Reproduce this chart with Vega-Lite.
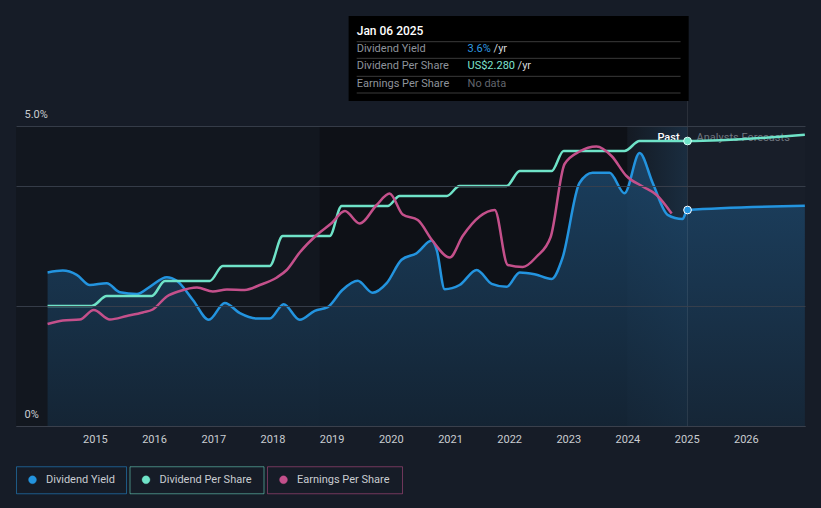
{
  "$schema": "https://vega.github.io/schema/vega-lite/v6.json",
  "width": 789,
  "height": 300,
  "autosize": {"type": "none"},
  "padding": {"left": 16, "top": 126, "right": 16, "bottom": 82},
  "background": "#161c27",
  "config": {
    "view": {"stroke": null, "fill": "#12171f"},
    "font": "Roboto",
    "text": {"font": "Roboto"}
  },
  "datasets": {
    "yield": [
      {"date": "2014-03-15", "value": 2.56, "series": "Dividend Yield"},
      {"date": "2014-06-17", "value": 2.59, "series": "Dividend Yield"},
      {"date": "2014-09-11", "value": 2.52, "series": "Dividend Yield"},
      {"date": "2014-12-01", "value": 2.35, "series": "Dividend Yield"},
      {"date": "2015-03-15", "value": 2.38, "series": "Dividend Yield"},
      {"date": "2015-06-04", "value": 2.23, "series": "Dividend Yield"},
      {"date": "2015-09-17", "value": 2.20, "series": "Dividend Yield"},
      {"date": "2015-12-06", "value": 2.32, "series": "Dividend Yield"},
      {"date": "2016-03-20", "value": 2.48, "series": "Dividend Yield"},
      {"date": "2016-05-21", "value": 2.42, "series": "Dividend Yield"},
      {"date": "2016-08-28", "value": 2.10, "series": "Dividend Yield"},
      {"date": "2016-12-04", "value": 1.77, "series": "Dividend Yield"},
      {"date": "2017-03-13", "value": 2.05, "series": "Dividend Yield"},
      {"date": "2017-06-14", "value": 1.88, "series": "Dividend Yield"},
      {"date": "2017-09-26", "value": 1.79, "series": "Dividend Yield"},
      {"date": "2017-12-15", "value": 1.79, "series": "Dividend Yield"},
      {"date": "2018-03-11", "value": 2.03, "series": "Dividend Yield"},
      {"date": "2018-06-18", "value": 1.77, "series": "Dividend Yield"},
      {"date": "2018-09-19", "value": 1.92, "series": "Dividend Yield"},
      {"date": "2018-12-08", "value": 1.98, "series": "Dividend Yield"},
      {"date": "2019-03-10", "value": 2.27, "series": "Dividend Yield"},
      {"date": "2019-06-11", "value": 2.42, "series": "Dividend Yield"},
      {"date": "2019-09-11", "value": 2.22, "series": "Dividend Yield"},
      {"date": "2019-12-07", "value": 2.38, "series": "Dividend Yield"},
      {"date": "2020-03-08", "value": 2.77, "series": "Dividend Yield"},
      {"date": "2020-06-09", "value": 2.88, "series": "Dividend Yield"},
      {"date": "2020-09-10", "value": 3.09, "series": "Dividend Yield"},
      {"date": "2020-10-11", "value": 2.93, "series": "Dividend Yield"},
      {"date": "2020-11-29", "value": 2.28, "series": "Dividend Yield"},
      {"date": "2021-03-01", "value": 2.35, "series": "Dividend Yield"},
      {"date": "2021-06-15", "value": 2.60, "series": "Dividend Yield"},
      {"date": "2021-09-15", "value": 2.37, "series": "Dividend Yield"},
      {"date": "2021-12-16", "value": 2.32, "series": "Dividend Yield"},
      {"date": "2022-03-07", "value": 2.56, "series": "Dividend Yield"},
      {"date": "2022-06-07", "value": 2.53, "series": "Dividend Yield"},
      {"date": "2022-09-20", "value": 2.45, "series": "Dividend Yield"},
      {"date": "2022-11-26", "value": 2.80, "series": "Dividend Yield"},
      {"date": "2023-03-11", "value": 4.05, "series": "Dividend Yield"},
      {"date": "2023-05-31", "value": 4.22, "series": "Dividend Yield"},
      {"date": "2023-09-13", "value": 4.22, "series": "Dividend Yield"},
      {"date": "2023-12-14", "value": 3.88, "series": "Dividend Yield"},
      {"date": "2024-03-16", "value": 4.55, "series": "Dividend Yield"},
      {"date": "2024-06-05", "value": 4.05, "series": "Dividend Yield"},
      {"date": "2024-09-05", "value": 3.52, "series": "Dividend Yield"},
      {"date": "2024-12-06", "value": 3.45, "series": "Dividend Yield"},
      {"date": "2025-01-06", "value": 3.60, "series": "Dividend Yield"},
      {"date": "2026-12-31", "value": 3.67, "series": "Dividend Yield"}
    ],
    "dps": [
      {"date": "2014-03-15", "value": 0.96, "series": "Dividend Per Share"},
      {"date": "2014-12-13", "value": 0.96, "series": "Dividend Per Share"},
      {"date": "2015-03-15", "value": 1.04, "series": "Dividend Per Share"},
      {"date": "2015-12-18", "value": 1.04, "series": "Dividend Per Share"},
      {"date": "2016-03-08", "value": 1.16, "series": "Dividend Per Share"},
      {"date": "2016-12-10", "value": 1.16, "series": "Dividend Per Share"},
      {"date": "2017-02-28", "value": 1.28, "series": "Dividend Per Share"},
      {"date": "2017-12-15", "value": 1.28, "series": "Dividend Per Share"},
      {"date": "2018-03-05", "value": 1.52, "series": "Dividend Per Share"},
      {"date": "2018-12-20", "value": 1.52, "series": "Dividend Per Share"},
      {"date": "2019-03-04", "value": 1.76, "series": "Dividend Per Share"},
      {"date": "2019-12-13", "value": 1.76, "series": "Dividend Per Share"},
      {"date": "2020-02-25", "value": 1.84, "series": "Dividend Per Share"},
      {"date": "2020-12-12", "value": 1.84, "series": "Dividend Per Share"},
      {"date": "2021-03-01", "value": 1.92, "series": "Dividend Per Share"},
      {"date": "2021-12-16", "value": 1.92, "series": "Dividend Per Share"},
      {"date": "2022-03-07", "value": 2.04, "series": "Dividend Per Share"},
      {"date": "2022-09-20", "value": 2.04, "series": "Dividend Per Share"},
      {"date": "2022-12-03", "value": 2.20, "series": "Dividend Per Share"},
      {"date": "2023-12-14", "value": 2.20, "series": "Dividend Per Share"},
      {"date": "2024-03-16", "value": 2.28, "series": "Dividend Per Share"},
      {"date": "2025-01-06", "value": 2.28, "series": "Dividend Per Share"},
      {"date": "2026-12-31", "value": 2.33, "series": "Dividend Per Share"}
    ],
    "eps": [
      {"date": "2014-03-15", "value": 2.04, "series": "Earnings Per Share"},
      {"date": "2014-06-17", "value": 2.11, "series": "Earnings Per Share"},
      {"date": "2014-09-30", "value": 2.13, "series": "Earnings Per Share"},
      {"date": "2014-12-25", "value": 2.32, "series": "Earnings Per Share"},
      {"date": "2015-04-03", "value": 2.13, "series": "Earnings Per Share"},
      {"date": "2015-07-17", "value": 2.20, "series": "Earnings Per Share"},
      {"date": "2015-10-23", "value": 2.27, "series": "Earnings Per Share"},
      {"date": "2015-12-24", "value": 2.33, "series": "Earnings Per Share"},
      {"date": "2016-03-20", "value": 2.59, "series": "Earnings Per Share"},
      {"date": "2016-06-09", "value": 2.70, "series": "Earnings Per Share"},
      {"date": "2016-09-22", "value": 2.77, "series": "Earnings Per Share"},
      {"date": "2016-12-29", "value": 2.69, "series": "Earnings Per Share"},
      {"date": "2017-03-26", "value": 2.73, "series": "Earnings Per Share"},
      {"date": "2017-07-14", "value": 2.72, "series": "Earnings Per Share"},
      {"date": "2017-10-15", "value": 2.82, "series": "Earnings Per Share"},
      {"date": "2018-01-28", "value": 2.97, "series": "Earnings Per Share"},
      {"date": "2018-03-30", "value": 3.12, "series": "Earnings Per Share"},
      {"date": "2018-06-18", "value": 3.47, "series": "Earnings Per Share"},
      {"date": "2018-10-01", "value": 3.82, "series": "Earnings Per Share"},
      {"date": "2019-01-02", "value": 4.06, "series": "Earnings Per Share"},
      {"date": "2019-03-24", "value": 4.30, "series": "Earnings Per Share"},
      {"date": "2019-06-23", "value": 4.05, "series": "Earnings Per Share"},
      {"date": "2019-10-06", "value": 4.42, "series": "Earnings Per Share"},
      {"date": "2019-12-25", "value": 4.65, "series": "Earnings Per Share"},
      {"date": "2020-03-15", "value": 4.23, "series": "Earnings Per Share"},
      {"date": "2020-06-16", "value": 4.12, "series": "Earnings Per Share"},
      {"date": "2020-09-16", "value": 3.70, "series": "Earnings Per Share"},
      {"date": "2020-12-30", "value": 3.37, "series": "Earnings Per Share"},
      {"date": "2021-03-20", "value": 3.80, "series": "Earnings Per Share"},
      {"date": "2021-07-03", "value": 4.19, "series": "Earnings Per Share"},
      {"date": "2021-10-04", "value": 4.32, "series": "Earnings Per Share"},
      {"date": "2021-12-23", "value": 3.22, "series": "Earnings Per Share"},
      {"date": "2022-03-26", "value": 3.18, "series": "Earnings Per Share"},
      {"date": "2022-06-20", "value": 3.39, "series": "Earnings Per Share"},
      {"date": "2022-09-14", "value": 3.78, "series": "Earnings Per Share"},
      {"date": "2022-12-09", "value": 5.24, "series": "Earnings Per Share"},
      {"date": "2023-03-11", "value": 5.49, "series": "Earnings Per Share"},
      {"date": "2023-06-24", "value": 5.59, "series": "Earnings Per Share"},
      {"date": "2023-09-25", "value": 5.40, "series": "Earnings Per Share"},
      {"date": "2023-12-26", "value": 5.00, "series": "Earnings Per Share"},
      {"date": "2024-04-04", "value": 4.79, "series": "Earnings Per Share"},
      {"date": "2024-06-29", "value": 4.62, "series": "Earnings Per Share"},
      {"date": "2024-09-30", "value": 4.25, "series": "Earnings Per Share"}
    ],
    "current": [
      {"date": "2025-01-06", "yield": 3.6, "dps": 2.28}
    ]
  },
  "resolve": {"scale": {"y": "independent"}},
  "layer": [
    {
      "data": {"values": [{}]},
      "mark": {"type": "rect", "fill": "#0e1117"},
      "encoding": {
        "x": {"datum": {"year": 2018, "month": 10, "date": 20}, "type": "temporal"},
        "x2": {"datum": {"year": 2024, "month": 1, "date": 1}},
        "y": {"datum": 0, "type": "quantitative", "scale": {"domain": [0, 5]}, "axis": null},
        "y2": {"datum": 5}
      }
    },
    {
      "data": {"values": [{}]},
      "mark": {"type": "rect", "fill": "#181e29"},
      "encoding": {
        "x": {"datum": {"year": 2025, "month": 1, "date": 6}, "type": "temporal"},
        "x2": {"datum": {"year": 2027, "month": 1, "date": 1}},
        "y": {"datum": 0, "type": "quantitative", "scale": {"domain": [0, 5]}, "axis": null},
        "y2": {"datum": 5}
      }
    },
    {
      "data": {"values": [{}]},
      "mark": {
        "type": "rect",
        "fill": {
          "gradient": "linear", "x1": 0, "y1": 0, "x2": 1, "y2": 0,
          "stops": [{"offset": 0, "color": "#141a23"}, {"offset": 1, "color": "#1a2d40"}]
        }
      },
      "encoding": {
        "x": {"datum": {"year": 2024, "month": 1, "date": 1}, "type": "temporal"},
        "x2": {"datum": {"year": 2025, "month": 1, "date": 6}},
        "y": {"datum": 0, "type": "quantitative", "scale": {"domain": [0, 5]}, "axis": null},
        "y2": {"datum": 5}
      }
    },
    {
      "data": {"name": "yield"},
      "mark": {
        "type": "area",
        "interpolate": "monotone",
        "opacity": 0.8,
        "color": {
          "gradient": "linear", "x1": 0, "y1": 0, "x2": 0, "y2": 1,
          "stops": [{"offset": 0, "color": "#1d4a70"}, {"offset": 1, "color": "#15283a"}]
        }
      },
      "encoding": {
        "x": {
          "field": "date", "type": "temporal",
          "scale": {"domain": [{"year": 2013, "month": 9, "date": 1}, {"year": 2027, "month": 1, "date": 1}]},
          "axis": {
            "title": null,
            "values": [{"year": 2015}, {"year": 2016}, {"year": 2017}, {"year": 2018}, {"year": 2019}, {"year": 2020}, {"year": 2021}, {"year": 2022}, {"year": 2023}, {"year": 2024}, {"year": 2025}, {"year": 2026}],
            "format": "%Y",
            "grid": false,
            "ticks": false,
            "domain": true,
            "domainColor": "#3a404c",
            "labelColor": "#c9ccd1",
            "labelFont": "Roboto",
            "labelFontSize": 11,
            "labelPadding": 7,
            "labelFlush": false,
            "zindex": 1
          }
        },
        "y": {
          "field": "value", "type": "quantitative",
          "scale": {"domain": [0, 5], "nice": false},
          "axis": {
            "title": null,
            "values": [0, 2, 4, 5],
            "labelExpr": "datum.value == 5 ? '5.0%' : (datum.value == 0 ? '0%' : '')",
            "grid": true,
            "gridColor": "#3a404c",
            "gridOpacity": 0.9,
            "domain": false,
            "ticks": false,
            "labelAlign": "left",
            "labelBaseline": "bottom",
            "labelPadding": -8,
            "labelOffset": -7,
            "labelColor": "#c9ccd1",
            "labelFont": "Roboto",
            "labelFontSize": 11,
            "zindex": 1
          }
        }
      }
    },
    {
      "data": {"values": [{}]},
      "mark": {"type": "rule", "stroke": "#ffffff", "strokeOpacity": 0.09, "strokeWidth": 1},
      "encoding": {
        "x": {"datum": {"year": 2025, "month": 1, "date": 6}, "type": "temporal"},
        "y": {"datum": 0, "type": "quantitative", "scale": {"domain": [0, 5]}, "axis": null},
        "y2": {"datum": 5.417}
      }
    },
    {
      "data": {"values": [{}]},
      "mark": {"type": "rect", "fill": "#000000"},
      "encoding": {
        "x": {"datum": {"year": 2019, "month": 4, "date": 16}, "type": "temporal"},
        "x2": {"datum": {"year": 2025, "month": 1, "date": 13}},
        "y": {"datum": 5.417, "type": "quantitative", "scale": {"domain": [0, 5]}, "axis": null},
        "y2": {"datum": 6.833}
      }
    },
    {
      "data": {"values": [{"level": 6.405}, {"level": 6.128}, {"level": 5.828}, {"level": 5.55}]},
      "mark": {"type": "rule", "stroke": "#3a3a3a", "strokeWidth": 1},
      "encoding": {
        "x": {"datum": {"year": 2019, "month": 6, "date": 5}, "type": "temporal"},
        "x2": {"datum": {"year": 2024, "month": 11, "date": 24}},
        "y": {"field": "level", "type": "quantitative", "scale": {"domain": [0, 5]}, "axis": null}
      }
    },
    {
      "data": {"values": [{"t": "Jan 06 2025"}]},
      "mark": {"type": "text", "align": "left", "baseline": "middle", "fontSize": 12, "fontWeight": 500, "color": "#ffffff"},
      "encoding": {
        "x": {"datum": {"year": 2019, "month": 6, "date": 5}, "type": "temporal"},
        "y": {"datum": 6.583, "type": "quantitative", "scale": {"domain": [0, 5]}, "axis": null},
        "text": {"field": "t"}
      }
    },
    {
      "data": {"values": [
        {"t": "Dividend Yield", "row": 6.283},
        {"t": "Dividend Per Share", "row": 6.0},
        {"t": "Earnings Per Share", "row": 5.7}
      ]},
      "mark": {"type": "text", "align": "left", "baseline": "middle", "fontSize": 11, "color": "#8e939b"},
      "encoding": {
        "x": {"datum": {"year": 2019, "month": 6, "date": 5}, "type": "temporal"},
        "y": {"field": "row", "type": "quantitative", "scale": {"domain": [0, 5]}, "axis": null},
        "text": {"field": "t"}
      }
    },
    {
      "data": {"values": [{"t": "3.6%"}]},
      "mark": {"type": "text", "align": "left", "baseline": "middle", "fontSize": 11, "color": "#2f9be0"},
      "encoding": {
        "x": {"datum": {"year": 2021, "month": 4, "date": 19}, "type": "temporal"},
        "y": {"datum": 6.283, "type": "quantitative", "scale": {"domain": [0, 5]}, "axis": null},
        "text": {"field": "t"}
      }
    },
    {
      "data": {"values": [{"t": "US$2.280"}]},
      "mark": {"type": "text", "align": "left", "baseline": "middle", "fontSize": 11, "color": "#7fe3cf"},
      "encoding": {
        "x": {"datum": {"year": 2021, "month": 4, "date": 19}, "type": "temporal"},
        "y": {"datum": 6.0, "type": "quantitative", "scale": {"domain": [0, 5]}, "axis": null},
        "text": {"field": "t"}
      }
    },
    {
      "data": {"values": [{"t": "No data"}]},
      "mark": {"type": "text", "align": "left", "baseline": "middle", "fontSize": 11, "color": "#62666d"},
      "encoding": {
        "x": {"datum": {"year": 2021, "month": 4, "date": 19}, "type": "temporal"},
        "y": {"datum": 5.7, "type": "quantitative", "scale": {"domain": [0, 5]}, "axis": null},
        "text": {"field": "t"}
      }
    },
    {
      "data": {"values": [{"t": "/yr"}]},
      "mark": {"type": "text", "align": "left", "baseline": "middle", "fontSize": 11, "color": "#d6d8dc"},
      "encoding": {
        "x": {"datum": {"year": 2021, "month": 9, "date": 27}, "type": "temporal"},
        "y": {"datum": 6.283, "type": "quantitative", "scale": {"domain": [0, 5]}, "axis": null},
        "text": {"field": "t"}
      }
    },
    {
      "data": {"values": [{"t": "/yr"}]},
      "mark": {"type": "text", "align": "left", "baseline": "middle", "fontSize": 11, "color": "#d6d8dc"},
      "encoding": {
        "x": {"datum": {"year": 2022, "month": 2, "date": 22}, "type": "temporal"},
        "y": {"datum": 6.0, "type": "quantitative", "scale": {"domain": [0, 5]}, "axis": null},
        "text": {"field": "t"}
      }
    },
    {
      "data": {"values": [{"t": "Past"}]},
      "mark": {"type": "text", "align": "right", "baseline": "middle", "fontSize": 11, "fontWeight": 500, "color": "#ffffff"},
      "encoding": {
        "x": {"datum": {"year": 2024, "month": 11, "date": 18}, "type": "temporal"},
        "y": {"datum": 4.8, "type": "quantitative", "scale": {"domain": [0, 5]}, "axis": null},
        "text": {"field": "t"}
      }
    },
    {
      "data": {"values": [{"t": "Analysts Forecasts"}]},
      "mark": {"type": "text", "align": "left", "baseline": "middle", "fontSize": 11, "color": "#8a9099", "opacity": 0.75},
      "encoding": {
        "x": {"datum": {"year": 2025, "month": 3, "date": 3}, "type": "temporal"},
        "y": {"datum": 4.8, "type": "quantitative", "scale": {"domain": [0, 5]}, "axis": null},
        "text": {"field": "t"}
      }
    },
    {
      "data": {"name": "yield"},
      "mark": {"type": "line", "interpolate": "monotone", "strokeWidth": 2.5},
      "encoding": {
        "x": {"field": "date", "type": "temporal"},
        "y": {"field": "value", "type": "quantitative", "scale": {"domain": [0, 5], "nice": false}, "axis": null},
        "color": {
          "field": "series", "type": "nominal",
          "scale": {
            "domain": ["Dividend Yield", "Dividend Per Share", "Earnings Per Share"],
            "range": ["#2394df", "#6fe3c8", "#c4508b"]
          },
          "legend": {
            "orient": "none",
            "legendX": 11,
            "legendY": 348,
            "direction": "horizontal",
            "title": null,
            "symbolType": "circle",
            "symbolSize": 64,
            "symbolStrokeWidth": 1,
            "labelFont": "Roboto",
            "labelFontSize": 11,
            "labelColor": "#c9ccd1",
            "labelOffset": 8,
            "columnPadding": -1.5,
            "padding": 0,
            "encode": {
              "symbols": {
                "update": {
                  "fill": {"scale": "color", "field": "value"},
                  "strokeOpacity": {"value": 0.3},
                  "strokeWidth": {"value": 1},
                  "opacity": {"value": 1},
                  "shape": {"signal": "datum.value === 'Dividend Yield' ? 'M-1,0A1,1 0 1,1 1,0A1,1 0 1,1 -1,0Z M-4,-3.25H23.5V3.5H-4Z M-4,-3.25V3.5H23.5V-3.25Z' : (datum.value === 'Dividend Per Share' ? 'M-1,0A1,1 0 1,1 1,0A1,1 0 1,1 -1,0Z M-4,-3.25H29.5V3.5H-4Z M-4,-3.25V3.5H29.5V-3.25Z' : 'M-1,0A1,1 0 1,1 1,0A1,1 0 1,1 -1,0Z M-4,-3.25H29.75V3.5H-4Z M-4,-3.25V3.5H29.75V-3.25Z')"}
                }
              }
            }
          }
        }
      }
    },
    {
      "data": {"name": "dps"},
      "mark": {"type": "line", "interpolate": "monotone", "strokeWidth": 2.5},
      "encoding": {
        "x": {"field": "date", "type": "temporal"},
        "y": {"field": "value", "type": "quantitative", "scale": {"domain": [0, 2.4], "nice": false}, "axis": null},
        "color": {"field": "series", "type": "nominal"}
      }
    },
    {
      "data": {"name": "eps"},
      "mark": {"type": "line", "interpolate": "monotone", "strokeWidth": 2.5},
      "encoding": {
        "x": {"field": "date", "type": "temporal"},
        "y": {"field": "value", "type": "quantitative", "scale": {"domain": [0, 6], "nice": false}, "axis": null},
        "color": {"field": "series", "type": "nominal"}
      }
    },
    {
      "data": {"name": "current"},
      "mark": {"type": "point", "filled": true, "size": 60, "fill": "#6fe3c8", "stroke": "#d9fff5", "strokeWidth": 1, "opacity": 1},
      "encoding": {
        "x": {"field": "date", "type": "temporal"},
        "y": {"field": "dps", "type": "quantitative", "scale": {"domain": [0, 2.4], "nice": false}, "axis": null}
      }
    },
    {
      "data": {"name": "current"},
      "mark": {"type": "point", "filled": true, "size": 60, "fill": "#2394df", "stroke": "#ffffff", "strokeWidth": 1, "opacity": 1},
      "encoding": {
        "x": {"field": "date", "type": "temporal"},
        "y": {"field": "yield", "type": "quantitative", "scale": {"domain": [0, 5], "nice": false}, "axis": null}
      }
    }
  ]
}
